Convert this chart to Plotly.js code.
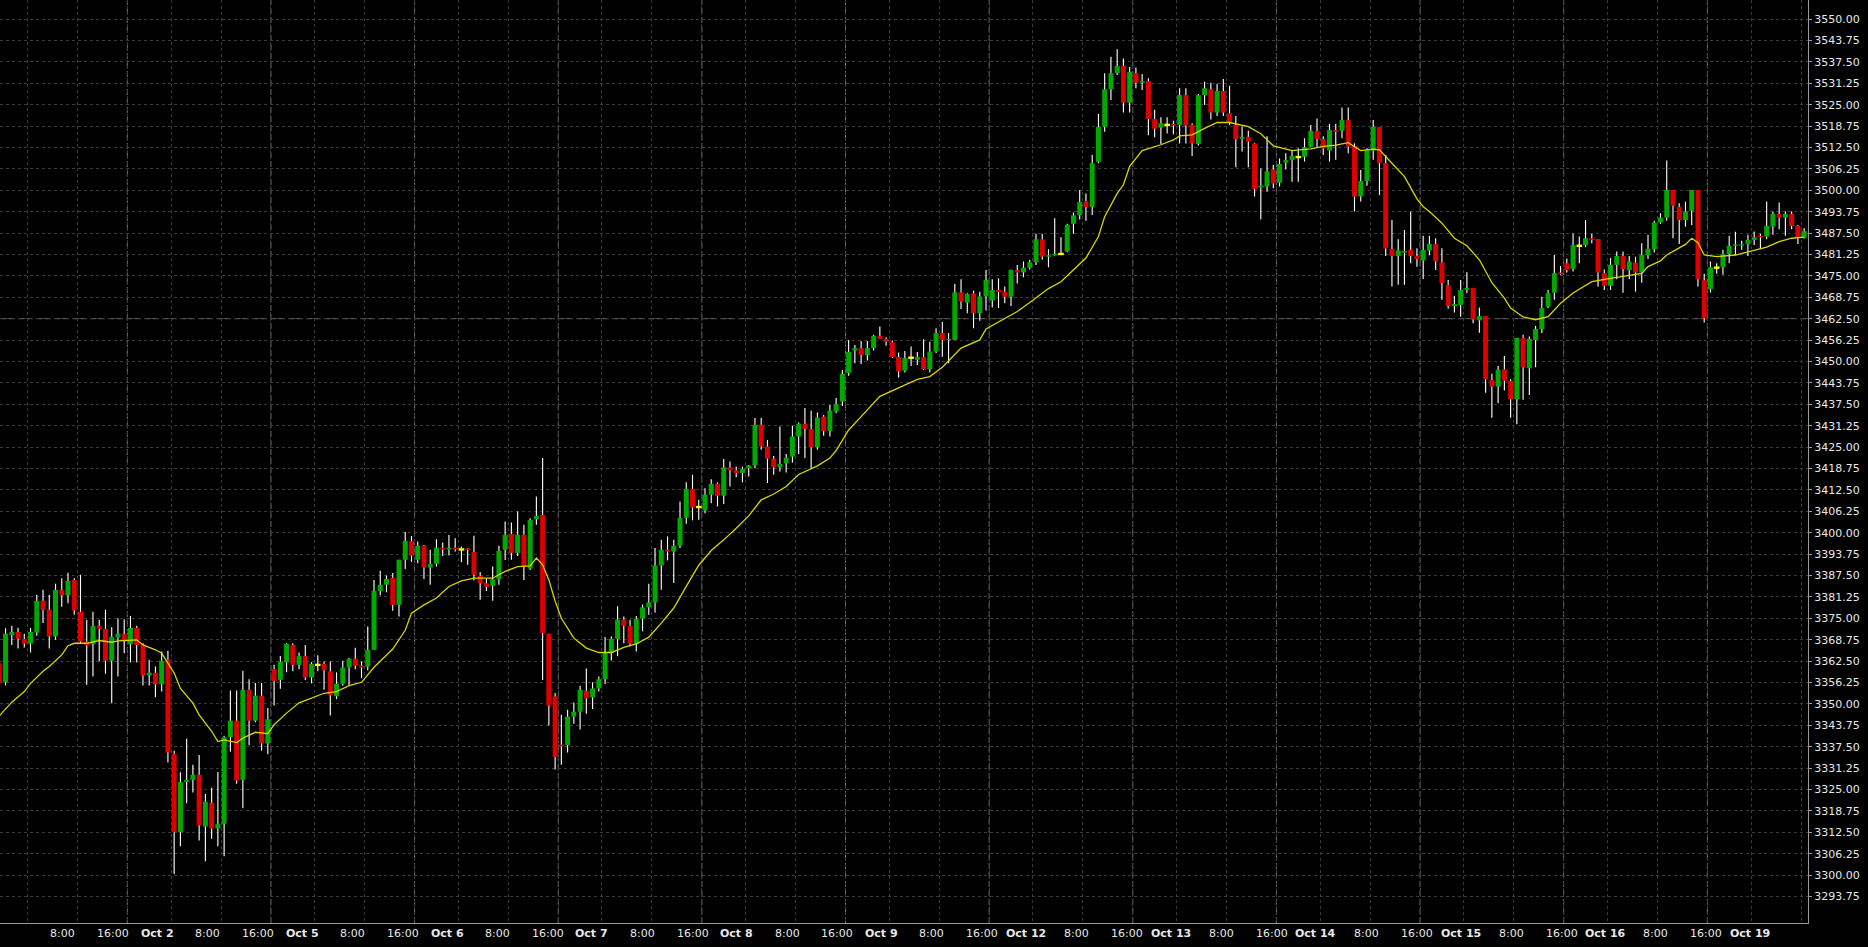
<!DOCTYPE html>
<html><head><meta charset="utf-8">
<script src="https://cdn.plot.ly/plotly-3.0.1.min.js"></script>
<style>html,body{margin:0;padding:0;background:#000;}#chart{width:1868px;height:947px;}</style>
</head><body><div id="chart"></div>
<script>
// Hourly bars, index 0 = Sep 30 18:00, 23 bars per trading day (0:00 .. 22:00)
const OPEN = [
3361.9,3356.3,3370.1,3371.0,3369.0,3367.6,3370.8,3380.1,3377.5,3369.7,
3383.3,3381.7,3386.2,3376.9,3368.2,3367.4,3372.8,3371.9,3362.6,3369.4,
3370.4,3367.4,3372.2,3367.2,3358.3,3359.1,3355.7,3362.9,3335.4,3312.5,
3327.2,3327.8,3329.3,3314.2,3321.1,3313.6,3315.0,3340.3,3345.1,3327.8,
3354.1,3345.1,3352.4,3338.4,3360.2,3357.0,3362.1,3367.2,3361.4,3364.0,
3357.7,3361.4,3361.7,3359.5,3352.2,3355.9,3360.6,3363.2,3361.2,3360.9,
3365.8,3383.0,3384.8,3386.8,3378.9,3392.1,3397.6,3392.1,3396.2,3389.8,
3390.9,3395.6,3395.1,3395.6,3395.1,3395.4,3394.4,3387.4,3385.2,3384.5,
3386.4,3395.0,3399.6,3394.1,3399.4,3389.5,3403.9,3405.2,3370.5,3352.2,
3338.1,3337.9,3346.3,3347.7,3353.8,3351.9,3354.5,3357.2,3364.8,3369.0,
3374.6,3372.8,3367.6,3374.9,3378.2,3379.6,3390.4,3395.0,3394.5,3396.2,
3404.3,3412.8,3407.5,3406.5,3411.1,3414.3,3410.8,3419.1,3418.2,3417.4,
3418.8,3419.6,3431.5,3425.2,3421.6,3419.1,3420.3,3422.2,3428.1,3431.8,
3430.3,3424.9,3433.9,3429.7,3435.4,3438.3,3446.6,3453.2,3453.9,3451.9,
3453.9,3457.5,3456.6,3455.6,3451.3,3447.3,3451.1,3450.5,3451.3,3447.7,
3452.9,3458.3,3456.3,3456.3,3470.2,3467.2,3469.9,3464.1,3469.0,3467.8,
3470.9,3470.4,3468.9,3476.7,3476.0,3477.4,3479.0,3485.7,3480.6,3481.0,
3481.4,3482.1,3490.2,3492.7,3496.8,3495.1,3508.3,3518.5,3529.5,3534.2,
3536.3,3525.6,3534.2,3531.4,3531.9,3520.8,3518.3,3519.1,3519.4,3519.1,
3527.8,3519.1,3513.5,3527.8,3529.5,3522.7,3529.0,3522.5,3519.1,3515.0,
3515.6,3513.7,3500.8,3501.1,3506.1,3502.2,3508.1,3508.8,3509.7,3509.8,
3512.7,3517.3,3515.0,3511.6,3517.6,3517.4,3520.5,3512.9,3498.2,3502.7,
3511.6,3518.5,3507.9,3482.9,3480.8,3481.8,3482.6,3480.8,3479.5,3482.4,
3484.3,3479.0,3472.3,3466.2,3466.5,3470.9,3471.5,3462.0,3463.3,3444.6,
3442.7,3447.7,3444.3,3439.0,3456.9,3448.0,3456.3,3459.4,3466.0,3470.1,
3476.0,3478.7,3477.0,3483.8,3484.0,3486.0,3485.8,3475.8,3472.1,3478.2,
3480.8,3476.7,3478.9,3476.0,3481.1,3482.8,3490.6,3492.0,3500.1,3495.2,
3491.3,3494.0,3500.1,3473.8,3471.1,3477.4,3477.5,3481.4,3483.8,3483.8,
3484.2,3485.5,3486.7,3486.5,3489.4,3493.1,3492.0,3493.1,3489.6,3486.0];
const HIGH = [
3363.0,3372.1,3372.8,3372.2,3370.5,3372.2,3381.9,3383.3,3381.9,3385.1,
3386.7,3388.3,3386.7,3387.7,3374.6,3376.9,3374.6,3377.5,3372.4,3375.0,
3374.7,3375.7,3372.8,3367.7,3362.9,3360.9,3365.3,3365.5,3336.3,3330.0,
3339.8,3332.2,3335.1,3323.7,3325.5,3330.1,3340.7,3353.9,3353.9,3359.7,
3357.2,3356.1,3356.1,3348.8,3361.4,3364.0,3367.7,3367.7,3365.0,3367.2,
3362.2,3364.2,3362.4,3362.4,3359.2,3362.6,3363.5,3366.4,3362.4,3372.6,
3386.2,3388.9,3387.5,3388.2,3392.1,3400.2,3399.0,3397.4,3396.4,3395.0,
3398.1,3397.1,3399.3,3398.4,3396.0,3395.5,3399.1,3388.5,3386.7,3390.1,
3396.2,3403.3,3403.0,3406.2,3402.3,3404.2,3410.6,3421.8,3370.5,3353.2,
3346.8,3348.3,3350.4,3355.3,3360.3,3356.3,3358.0,3369.5,3369.7,3378.5,
3375.5,3374.6,3375.7,3379.0,3385.1,3395.5,3397.9,3398.9,3397.9,3409.1,
3414.7,3416.9,3409.6,3413.0,3415.6,3414.7,3421.5,3420.8,3419.3,3419.3,
3419.8,3433.5,3433.5,3427.1,3422.4,3431.0,3423.0,3431.2,3432.2,3436.4,
3435.6,3435.1,3434.4,3437.3,3439.3,3447.5,3456.3,3454.8,3456.0,3456.0,
3457.8,3460.2,3457.1,3456.1,3452.6,3453.1,3454.4,3452.8,3456.5,3455.8,
3459.7,3461.5,3458.3,3472.7,3474.0,3469.9,3470.7,3470.4,3476.7,3474.0,
3474.3,3471.9,3476.9,3478.2,3479.2,3479.7,3487.3,3487.3,3482.8,3491.8,
3486.3,3490.2,3493.5,3500.1,3499.1,3510.3,3522.3,3534.2,3539.0,3541.2,
3538.5,3536.0,3535.9,3534.0,3532.7,3523.5,3521.3,3521.3,3520.3,3529.8,
3529.8,3519.6,3528.1,3531.7,3531.4,3531.1,3532.5,3530.5,3521.7,3518.6,
3517.4,3513.9,3506.4,3515.8,3507.4,3509.3,3510.8,3511.6,3512.3,3515.2,
3519.1,3521.0,3515.8,3519.4,3519.4,3524.2,3524.2,3513.7,3505.9,3512.3,
3520.5,3518.5,3510.3,3491.3,3485.7,3488.4,3493.8,3483.1,3486.7,3486.7,
3486.0,3483.1,3473.8,3469.2,3473.8,3476.1,3471.5,3465.8,3463.3,3446.4,
3448.7,3451.6,3444.8,3456.9,3457.8,3457.3,3460.4,3468.9,3470.9,3481.1,
3477.9,3480.1,3487.4,3486.5,3491.3,3487.3,3485.8,3476.9,3480.2,3482.1,
3482.1,3480.8,3480.6,3484.5,3487.0,3491.1,3493.3,3508.7,3500.1,3496.2,
3496.7,3500.1,3500.1,3475.6,3479.2,3478.7,3482.6,3486.7,3487.9,3485.3,
3487.0,3488.0,3487.3,3496.7,3493.8,3496.4,3493.8,3493.8,3489.9,3488.9];
const LOW = [
3355.0,3355.4,3367.2,3366.2,3366.5,3365.0,3369.9,3373.6,3366.2,3368.7,
3378.4,3379.4,3376.0,3367.7,3355.6,3358.0,3362.4,3358.8,3350.2,3358.0,
3364.8,3362.1,3362.1,3355.4,3355.4,3351.9,3353.6,3332.9,3300.3,3308.4,
3321.0,3324.1,3310.1,3304.0,3310.6,3308.4,3305.5,3336.0,3326.7,3319.5,
3337.9,3344.6,3336.3,3335.3,3349.5,3354.4,3359.2,3359.5,3360.1,3357.0,
3356.0,3359.5,3354.1,3346.6,3351.4,3355.3,3355.3,3360.1,3357.5,3359.8,
3365.8,3381.7,3382.6,3377.2,3375.5,3389.4,3391.5,3391.1,3386.5,3384.8,
3390.1,3393.2,3393.3,3394.5,3391.4,3390.6,3386.0,3380.4,3383.0,3380.1,
3384.8,3392.0,3392.1,3393.2,3386.2,3389.1,3402.3,3357.0,3343.7,3330.8,
3332.2,3335.8,3344.2,3342.5,3347.1,3348.5,3353.6,3355.8,3362.7,3363.9,
3367.7,3366.8,3365.3,3371.2,3376.0,3376.7,3383.3,3391.9,3385.3,3395.5,
3402.6,3403.6,3403.8,3405.7,3408.6,3407.7,3408.4,3413.5,3416.2,3414.7,
3416.4,3418.8,3424.2,3414.5,3416.9,3417.9,3417.6,3420.5,3423.0,3421.8,
3418.8,3424.2,3428.3,3428.1,3434.9,3437.0,3445.8,3449.5,3449.3,3450.3,
3453.2,3456.6,3454.6,3451.0,3445.3,3446.8,3448.7,3449.0,3447.5,3446.8,
3452.5,3451.4,3449.5,3456.3,3465.3,3464.1,3459.7,3461.9,3464.9,3465.8,
3465.6,3467.0,3466.2,3472.8,3474.6,3476.9,3478.2,3479.7,3477.5,3480.9,
3481.1,3481.9,3487.3,3491.5,3491.1,3492.8,3507.9,3517.1,3526.4,3533.7,
3522.7,3522.7,3529.8,3529.3,3516.1,3515.5,3513.5,3516.6,3516.4,3513.7,
3513.7,3510.0,3513.1,3524.9,3520.7,3521.7,3521.7,3519.1,3506.7,3511.3,
3506.7,3498.2,3491.5,3499.6,3500.6,3501.1,3506.1,3502.5,3502.5,3508.4,
3512.6,3512.6,3510.3,3508.4,3508.9,3515.2,3510.8,3493.8,3496.7,3501.3,
3508.9,3498.6,3480.8,3471.9,3472.4,3472.4,3478.7,3477.7,3474.1,3481.0,
3476.7,3468.0,3465.4,3464.3,3463.1,3469.9,3461.2,3458.4,3440.9,3433.6,
3437.8,3441.5,3433.6,3431.7,3438.8,3440.2,3448.3,3458.3,3465.6,3468.0,
3475.3,3476.0,3476.3,3478.7,3483.4,3484.5,3471.9,3470.9,3470.9,3474.0,
3470.1,3474.0,3470.4,3473.0,3479.9,3481.8,3490.2,3491.1,3486.0,3484.3,
3489.4,3489.9,3471.9,3461.4,3470.1,3475.6,3475.3,3478.7,3481.1,3482.6,
3480.8,3484.0,3482.8,3485.7,3487.0,3488.6,3486.7,3488.6,3484.3,3485.9];
const CLOSE = [
3356.1,3370.5,3371.0,3369.0,3367.6,3371.0,3380.1,3377.5,3369.7,3383.3,
3381.7,3385.9,3377.3,3368.2,3367.1,3372.8,3371.9,3362.6,3369.6,3370.5,
3368.7,3372.2,3367.2,3358.3,3359.1,3355.7,3362.6,3335.8,3312.5,3327.2,
3327.8,3329.3,3314.5,3321.4,3313.6,3315.0,3340.3,3345.1,3327.6,3354.1,
3345.1,3352.4,3338.4,3345.5,3356.7,3362.3,3367.5,3361.4,3364.0,3357.7,
3361.7,3361.4,3359.8,3352.5,3355.9,3360.6,3363.2,3361.1,3360.6,3365.8,
3383.0,3384.8,3386.5,3378.9,3392.1,3397.6,3393.3,3396.2,3389.8,3390.9,
3395.6,3395.1,3395.6,3395.1,3395.1,3394.9,3387.7,3385.2,3384.2,3386.4,
3394.7,3399.4,3394.1,3399.4,3390.1,3403.7,3404.9,3370.7,3349.5,3334.5,
3337.6,3346.3,3347.7,3354.1,3351.6,3354.5,3357.2,3364.8,3369.0,3374.6,
3372.8,3367.6,3374.9,3378.2,3379.6,3390.4,3395.0,3394.5,3396.2,3404.3,
3412.8,3407.4,3407.5,3411.1,3414.3,3410.8,3419.1,3418.2,3417.4,3418.6,
3419.6,3431.5,3425.2,3421.6,3419.1,3420.1,3421.9,3428.1,3431.8,3430.3,
3424.9,3433.6,3429.7,3435.6,3437.6,3446.4,3452.8,3453.9,3451.9,3453.9,
3457.5,3456.6,3455.8,3451.3,3447.1,3451.0,3451.1,3451.3,3447.7,3452.9,
3458.3,3456.3,3456.6,3470.2,3467.5,3469.7,3464.1,3469.0,3473.8,3470.9,
3470.2,3468.9,3476.7,3476.0,3477.4,3479.0,3485.7,3480.6,3481.0,3481.4,
3481.4,3489.9,3492.7,3496.6,3495.1,3507.9,3518.5,3529.5,3534.2,3536.3,
3525.6,3534.6,3531.4,3531.9,3520.8,3518.0,3519.6,3519.1,3518.9,3527.8,
3518.9,3513.7,3527.8,3529.8,3522.7,3529.0,3522.7,3519.8,3514.9,3515.6,
3514.2,3500.4,3501.4,3505.5,3502.0,3507.7,3508.8,3510.0,3509.7,3512.6,
3517.3,3515.0,3512.2,3517.6,3517.1,3520.5,3512.8,3498.2,3502.7,3511.8,
3518.5,3507.9,3483.0,3480.8,3482.4,3482.3,3480.8,3479.9,3482.6,3484.3,
3479.2,3472.9,3466.2,3466.8,3470.9,3471.5,3462.3,3463.3,3444.8,3442.7,
3447.6,3444.4,3439.0,3456.9,3448.3,3456.6,3459.5,3465.6,3469.9,3475.8,
3475.5,3476.7,3484.0,3483.8,3486.0,3485.5,3476.0,3472.1,3478.2,3480.8,
3477.0,3479.2,3476.0,3481.1,3482.9,3490.6,3492.0,3500.1,3495.5,3491.3,
3493.8,3500.1,3474.0,3462.6,3477.5,3477.4,3481.4,3483.8,3484.2,3484.2,
3485.5,3486.3,3486.3,3489.6,3493.1,3492.0,3493.1,3489.6,3486.0,3488.1];

// Moving average: bar index and value
const MA_BAR = [0,2,4,5,7,8,10,11,12,14,16,18,19,22,23,25,26,28,29,31,32,34,35,36,38,39,41,43,44,46,48,52,54,56,58,60,63,65,66,68,70,72,74,76,79,81,83,85,86,87,88,89,90,92,94,96,98,100,102,104,106,108,110,112,114,116,118,120,122,124,126,128,131,133,134,136,138,141,144,147,149,151,154,157,158,161,163,165,168,170,172,174,176,177,179,180,181,183,186,188,189,191,193,195,197,200,202,204,207,210,212,214,216,218,220,221,223,225,226,227,228,229,231,233,235,237,239,241,242,244,246,248,250,252,255,258,263,264,266,267,269,270,271,272,273,275,278,279,281,283,285,287,289];
const MA_VAL = [3346.5,3350.5,3353.6,3356.0,3359.5,3360.9,3364.3,3367.0,3367.7,3367.7,3368.5,3368.0,3368.4,3368.7,3367.2,3365.8,3364.8,3359.0,3354.5,3350.2,3346.8,3342.0,3339.0,3339.5,3338.7,3340.0,3341.7,3341.3,3343.9,3347.3,3350.3,3353.1,3353.6,3355.3,3356.3,3360.7,3366.0,3371.5,3376.5,3378.9,3380.9,3384.3,3385.9,3386.7,3386.7,3388.7,3390.1,3390.3,3392.6,3390.6,3386.2,3380.0,3375.0,3369.2,3366.3,3365.0,3365.0,3366.5,3367.5,3369.5,3373.6,3378.0,3384.3,3390.5,3394.8,3397.9,3401.3,3404.9,3409.6,3411.3,3413.5,3417.0,3419.5,3421.8,3424.0,3430.0,3433.9,3439.8,3442.3,3444.8,3445.6,3448.3,3453.9,3456.3,3459.5,3462.5,3464.6,3467.2,3471.3,3473.3,3476.7,3480.2,3486.5,3492.3,3499.1,3501.6,3507.0,3511.6,3513.3,3514.7,3515.9,3516.2,3518.1,3519.8,3519.8,3518.6,3516.5,3513.0,3511.6,3512.1,3512.8,3513.2,3513.9,3511.6,3512.0,3511.8,3507.9,3504.0,3500.8,3497.5,3495.2,3493.8,3490.4,3486.0,3483.8,3479.7,3473.0,3468.5,3465.6,3463.0,3462.2,3463.1,3467.0,3470.0,3473.3,3474.3,3475.7,3477.7,3479.4,3481.1,3483.2,3484.2,3486.0,3484.7,3481.1,3480.6,3481.1,3481.6,3482.6,3483.4,3485.0,3486.0,3486.3];

const DAY_LABELS = ["Oct 1","Oct 2","Oct 5","Oct 6","Oct 7","Oct 8","Oct 9","Oct 12","Oct 13","Oct 14","Oct 15","Oct 16","Oct 19"];
const HOUR_LABELS = ["8:00","16:00"];
const PRICE_MIN_LABEL = 3293.75, PRICE_MAX_LABEL = 3550.00, PRICE_STEP = 6.25;
const LEVEL_LINE = 3462.50;

const FIRST_DAY_BAR = 5, BARS_PER_DAY = 23, HOUR_OFFSETS = [8,16];
const X_RANGE = [0.112, 289.62], Y_RANGE = [3286.0, 3555.58];
const GREEN = '#00a800', RED = '#dc0000', DOJI = '#ffff00';

const idx = OPEN.map((_, i) => i);
const isDoji = idx.map(i => OPEN[i] === CLOSE[i]);
const bodyIdx = idx.filter(i => !isDoji[i]);
const dojiIdx = idx.filter(i => isDoji[i]);

const traces = [
  {type:'bar', x: idx, base: LOW, y: idx.map(i => HIGH[i] - LOW[i]), width: 0.18,
   marker:{color:'#ffffff', line:{width:0}}, hoverinfo:'skip'},
  {type:'bar', x: bodyIdx, base: bodyIdx.map(i => OPEN[i]), y: bodyIdx.map(i => CLOSE[i] - OPEN[i]), width: 0.8,
   marker:{color: bodyIdx.map(i => CLOSE[i] > OPEN[i] ? GREEN : RED), line:{width:0}}, hoverinfo:'skip'},
  {type:'bar', x: dojiIdx, base: dojiIdx.map(i => OPEN[i] - 0.35), y: dojiIdx.map(() => 0.7), width: 0.9,
   marker:{color: DOJI, line:{width:0}}, hoverinfo:'skip'},
  {type:'scatter', mode:'lines', x: MA_BAR, y: MA_VAL, line:{color:'#d6d600', width:1.3}, hoverinfo:'skip'}
];

// price ticks
const priceTicks = [];
for (let p = PRICE_MIN_LABEL; p <= PRICE_MAX_LABEL + 1e-9; p += PRICE_STEP) priceTicks.push(p);

// grid positions (bar boundaries) and labels
const gridVals = [], labels = [], sessionLines = [];
DAY_LABELS.forEach((d, k) => {
  const s = FIRST_DAY_BAR + BARS_PER_DAY * k;
  gridVals.push(s - 0.5); labels.push({t: s - 0.5, text: '<b>' + d + '</b>'});
  HOUR_OFFSETS.forEach((h, j) => {
    gridVals.push(s + h - 0.5); labels.push({t: s + h - 0.5, text: HOUR_LABELS[j]});
  });
  sessionLines.push(s + 15.5);
});
const pxPerBar = 1808 / (X_RANGE[1] - X_RANGE[0]);
const annotations = labels.filter(l => l.t > 6 && l.t < 286).map(l => {
  const px = (l.t - X_RANGE[0]) * pxPerBar;
  return {x: l.t, xref:'x', y: 0, yref:'paper', yanchor:'middle', xanchor:'center', yshift:-10,
    xshift: -14 + 13 * (px - 127) / 1580, showarrow:false, text: l.text,
    font:{family:'DejaVu Sans', size:11, color:'#e8e8e8'}};
});
const shapes = sessionLines.filter(t => t < X_RANGE[1]).map(t => ({
  type:'line', xref:'x', yref:'paper', x0:t, x1:t, y0:0, y1:1, layer:'below',
  line:{color:'#6c6c6c', width:1, dash:'6px,3px'}}));
shapes.push({type:'line', xref:'paper', yref:'y', x0:0, x1:1, y0:LEVEL_LINE, y1:LEVEL_LINE, layer:'below',
  line:{color:'#6c6c6c', width:1, dash:'6px,3px'}});

const layout = {
  width:1868, height:947, paper_bgcolor:'#000000', plot_bgcolor:'#000000',
  margin:{l:0, r:60, t:0, b:24, pad:0}, barmode:'overlay', showlegend:false,
  xaxis:{range:X_RANGE, tickmode:'array', tickvals:gridVals, showticklabels:false, ticks:'',
    showgrid:true, gridcolor:'#3a3a3a', griddash:'3px,3px', gridwidth:1, zeroline:false,
    showline:true, linecolor:'#9a9a9a', linewidth:1, fixedrange:true},
  yaxis:{side:'right', range:Y_RANGE, tickmode:'array', tickvals:priceTicks,
    ticktext: priceTicks.map(p => p.toFixed(2)),
    showgrid:true, gridcolor:'#3a3a3a', griddash:'3px,3px', gridwidth:1, zeroline:false,
    showline:true, mirror:true, linecolor:'#9a9a9a', linewidth:1, ticks:'outside', ticklen:3, tickcolor:'#9a9a9a',
    tickfont:{family:'DejaVu Sans', size:11, color:'#e8e8e8'}, fixedrange:true},
  shapes: shapes, annotations: annotations
};
Plotly.newPlot('chart', traces, layout, {displayModeBar:false, staticPlot:true});
</script></body></html>
